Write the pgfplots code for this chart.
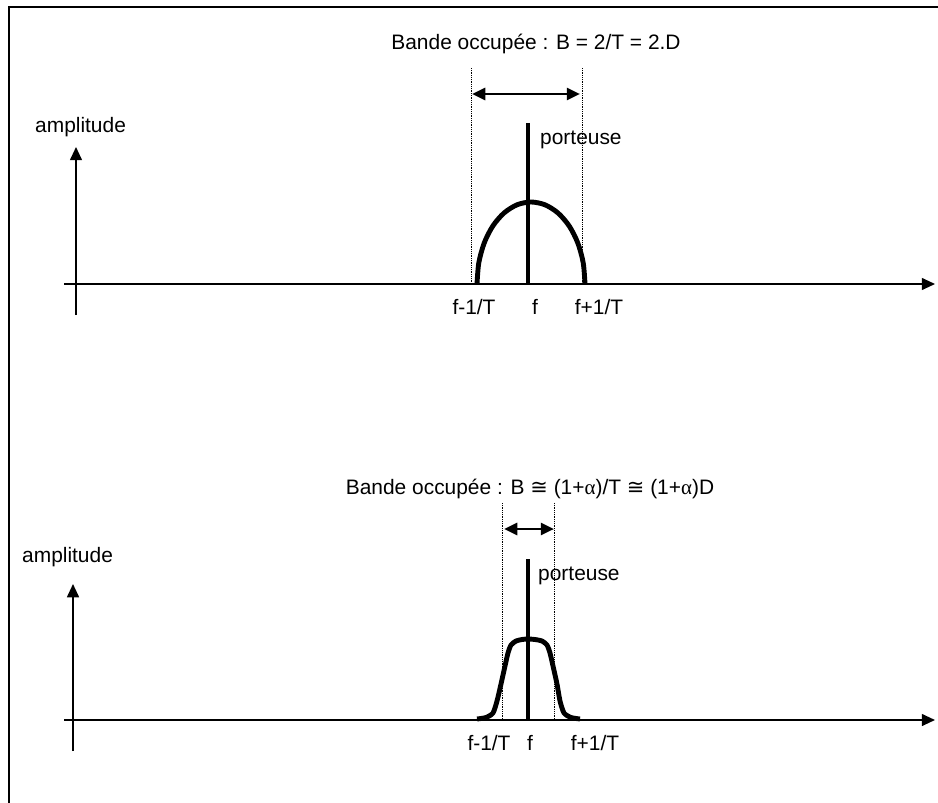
\documentclass[border=0pt]{standalone}
\usepackage{pgfplots}
\pgfplotsset{compat=1.18}
\usepackage{fontspec}
\setmainfont{Liberation Sans}
\newfontfamily\symfont{DejaVu Sans}
\newfontfamily\grkfont{Liberation Serif}
\usetikzlibrary{arrows.meta}
\tikzset{tip/.tip={Triangle[length=13.3pt,width=12pt]}}
\begin{document}
\begin{tikzpicture}
\begin{axis}[
  scale only axis, width=938bp, height=803bp,
  xmin=0, xmax=938, ymin=0, ymax=803, y dir=reverse,
  hide axis, clip=true,
  every axis plot/.append style={black},
  nodes={font=\fontsize{21}{24}\selectfont, inner sep=0pt},
]
% frame
\addplot[line width=2.9pt, line cap=rect] coordinates {(9,803) (9,7) (938,7)};
% ---------- top panel ----------
\addplot[line width=1.7pt, -tip] coordinates {(64,284) (935,284)};
\addplot[line width=1.7pt, -tip] coordinates {(76,315) (76,147)};
\addplot[line width=0.8pt, densely dotted] coordinates {(471,68) (471,284)};
\addplot[line width=0.8pt, densely dotted] coordinates {(582,68) (582,284)};
\addplot[line width=2.9pt, tip-tip] coordinates {(472,94) (580,94)};
\addplot[line width=4.9pt, smooth] coordinates {
 (477,284) (478.8,262.8) (484.2,243) (492.8,226) (504,213) (517,204.8) (531,202)
 (545,204.8) (558,213) (569.2,226) (577.8,243) (583.2,262.8) (585,284)};
\addplot[line width=4.9pt] coordinates {(528,123) (528,284)};
\node[anchor=center] at (axis cs:536,44) {Bande occupée : B = 2/T = 2.D};
\node[anchor=west] at (axis cs:540,140) {porteuse};
\node[anchor=west] at (axis cs:35,127) {amplitude};
\node at (axis cs:474,307) {f-1/T};
\node at (axis cs:535,307) {f};
\node at (axis cs:599,307) {f+1/T};
% ---------- bottom panel ----------
\addplot[line width=1.7pt, -tip] coordinates {(64,720) (935,720)};
\addplot[line width=1.7pt, -tip] coordinates {(73,751) (73,584)};
\addplot[line width=0.8pt, densely dotted] coordinates {(502,503) (502,720)};
\addplot[line width=0.8pt, densely dotted] coordinates {(554,503) (554,720)};
\addplot[line width=2.9pt, tip-tip] coordinates {(504,529) (554,529)};
\addplot[line width=4.9pt, smooth, tension=0.4] coordinates {
 (477,719) (486,717.5) (493,713) (497,701) (501,684) (505,666) (508,653) (511,645)
 (516,641) (522,639.5) (528,639) (535,639.5) (542,641) (547,645) (550,653) (553,666)
 (557,684) (560,701) (564,713) (571,717.5) (580,719)};
\addplot[line width=4.9pt] coordinates {(528,559) (528,720)};
\node[anchor=center] at (axis cs:530,489) {Bande occupée : B {\symfont ≅} (1+{\grkfont α})/T {\symfont ≅} (1+{\grkfont α})D};
\node[anchor=west] at (axis cs:538,576) {porteuse};
\node[anchor=west] at (axis cs:22,557) {amplitude};
\node at (axis cs:489,743) {f-1/T};
\node at (axis cs:530,743) {f};
\node at (axis cs:595,743) {f+1/T};
\end{axis}
\pgfresetboundingbox
\path (current axis.south west) rectangle (current axis.north east);
\end{tikzpicture}
\end{document}
